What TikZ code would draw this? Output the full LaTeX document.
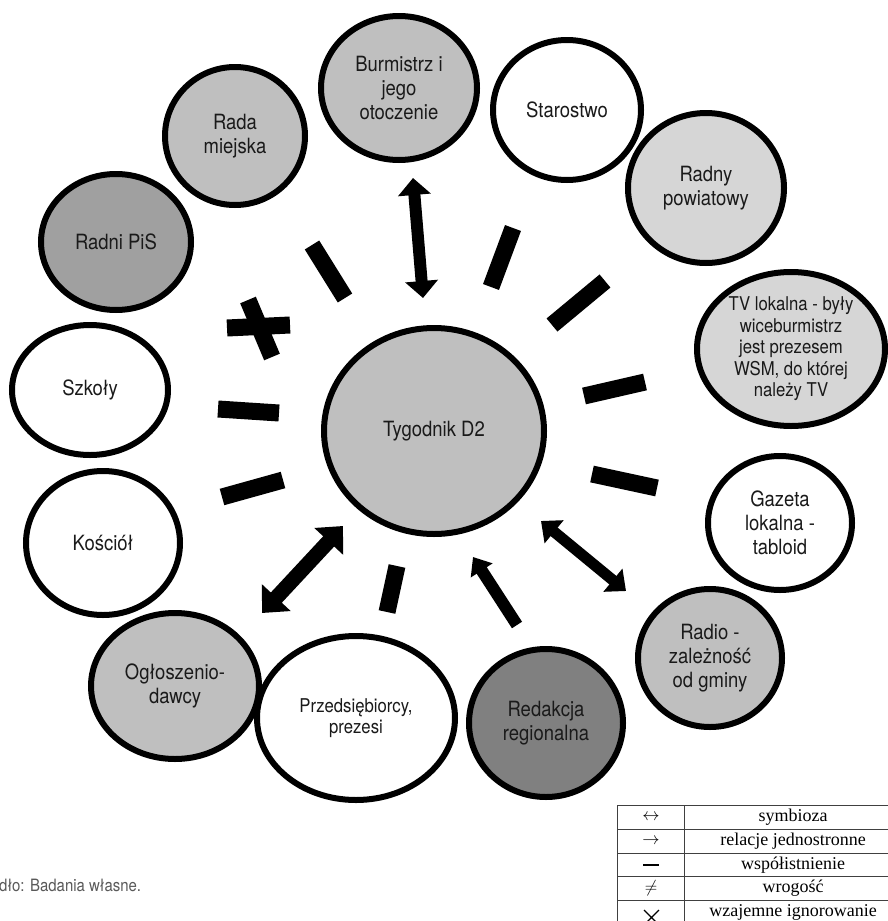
\documentclass[tikz,border=0pt]{standalone}
\usepackage{fontspec}
\setmainfont{TeX Gyre Heros}[FakeStretch=0.88]
\newfontfamily\legendfont{Liberation Serif}
\usetikzlibrary{shapes.geometric,arrows.meta}

\definecolor{midgray}{HTML}{BFBFBF}
\definecolor{lightgray}{HTML}{D6D6D6}
\definecolor{darkgray}{HTML}{A0A0A0}
\definecolor{deepgray}{HTML}{808080}
\definecolor{inkcol}{HTML}{1A1A1A}

\begin{document}
\begin{tikzpicture}[x=1pt,y=-1pt,
  actor/.style={ellipse, draw=black, line width=6pt, inner sep=0pt,
    align=center, text=inkcol, font=\fontsize{21}{24}\selectfont},
  smalltext/.style={font=\fontsize{19}{21.5}\selectfont},
  bar/.style={line width=17pt, line cap=butt, black},
  twoway/.style={line width=#1, black},
  legline/.style={line width=0.8pt, draw=black!75},
  legtext/.style={font=\legendfont\fontsize{18}{20}\selectfont, text=black},
]
\useasboundingbox (0,0) rectangle (888,921);

% ---- actors around the weekly ----
\node[actor, fill=midgray,  minimum width=156pt, minimum height=144pt] (burm)  at (399,88)  {Burmistrz i\\jego\\otoczenie};
\node[actor, fill=white,    minimum width=148pt, minimum height=140pt] (star)  at (567,110) {Starostwo};
\node[actor, fill=midgray,  minimum width=140pt, minimum height=138pt] (rada)  at (235,136) {Rada\\miejska};
\node[actor, fill=darkgray, minimum width=150pt, minimum height=136pt] (pis)   at (116,242) {Radni PiS};
\node[actor, fill=lightgray,minimum width=156pt, minimum height=150pt] (radny) at (706,188) {Radny\\powiatowy};
\node[actor, fill=lightgray,minimum width=188pt, minimum height=154pt, smalltext] (tv) at (791,349)
  {TV lokalna - były\\wiceburmistrz\\jest prezesem\\WSM, do której\\należy TV};
\node[actor, fill=white,    minimum width=156pt, minimum height=130pt] (szk)   at (90,390)  {Szkoły};
\node[actor, fill=midgray,  minimum width=220pt, minimum height=206pt] (tyg)   at (434,431) {Tygodnik D2};
\node[actor, fill=white,    minimum width=144pt, minimum height=134pt] (gaz)   at (780,523) {Gazeta\\lokalna -\\tabloid};
\node[actor, fill=white,    minimum width=154pt, minimum height=144pt] (kos)   at (103,543) {Kościół};
\node[actor, fill=midgray,  minimum width=144pt, minimum height=138pt] (radio) at (710,658) {Radio -\\zależność\\od gminy};
\node[actor, fill=midgray,  minimum width=168pt, minimum height=146pt] (ogl)   at (175,686) {Ogłoszenio-\\dawcy};
\node[actor, fill=white,    minimum width=198pt, minimum height=164pt, smalltext] (prz) at (356,718) {Przedsiębiorcy,\\prezesi};
\node[actor, fill=deepgray, minimum width=154pt, minimum height=148pt] (red)   at (546,723) {Redakcja\\regionalna};

% ---- end points of the relation marks ----
\coordinate (rada-a)  at (312,245); \coordinate (rada-b)  at (345,298);
\coordinate (star-a)  at (513,228); \coordinate (star-b)  at (491,287);
\coordinate (radny-a) at (605,281); \coordinate (radny-b) at (552,325);
\coordinate (tv-a)    at (645,382); \coordinate (tv-b)    at (584,396);
\coordinate (gaz-a)   at (592,474); \coordinate (gaz-b)   at (657,488);
\coordinate (szk-a)   at (218,409); \coordinate (szk-b)   at (279,413);
\coordinate (kos-a)   at (222,497); \coordinate (kos-b)   at (283,480);
\coordinate (prz-a)   at (397,566); \coordinate (prz-b)   at (387,612);
\coordinate (pis-h1)  at (227,328); \coordinate (pis-h2)  at (290,325);
\coordinate (pis-v1)  at (248,300); \coordinate (pis-v2)  at (272,357);
\coordinate (burm-a)  at (413,178); \coordinate (burm-b)  at (423,298);
\coordinate (radio-a) at (541,521); \coordinate (radio-b) at (626,591);
\coordinate (ogl-a)   at (343,526); \coordinate (ogl-b)   at (262,613);
\coordinate (red-a)   at (517,625); \coordinate (red-b)   at (473,557);

% coexistence
\draw[bar] (rada-a) -- (rada-b);
\draw[bar] (star-a) -- (star-b);
\draw[bar] (radny-a) -- (radny-b);
\draw[bar] (tv-a) -- (tv-b);
\draw[bar] (gaz-a) -- (gaz-b);
\draw[bar] (szk-a) -- (szk-b);
\draw[bar] (kos-a) -- (kos-b);
\draw[bar] (prz-a) -- (prz-b);
% hostility
\draw[bar] (pis-h1) -- (pis-h2);
\draw[bar] (pis-v1) -- (pis-v2);
% symbiosis
\draw[twoway=12pt, {Triangle[width=32pt,length=17pt]}-{Triangle[width=32pt,length=17pt]}] (burm-a) -- (burm-b);
\draw[twoway=11pt, {Triangle[width=29pt,length=17pt]}-{Triangle[width=29pt,length=17pt]}] (radio-a) -- (radio-b);
\draw[twoway=15pt, {Triangle[width=38pt,length=21pt]}-{Triangle[width=38pt,length=21pt]}] (ogl-a) -- (ogl-b);
% one-way relation
\draw[twoway=12pt, -{Triangle[width=25pt,length=16pt]}] (red-a) -- (red-b);

% ---- source line ----
\node[anchor=west, inner sep=0pt, text=black!65, font=\fontsize{17}{19}\selectfont] (src) at (-1,885) {dło: Badania własne.};

% ---- legend table ----
\coordinate (lg-nw) at (617,805);
\draw[legline] (617,930) -- (lg-nw) -- (900,805);
\foreach \yy in {829,853,876,900} \draw[legline] (617,\yy) -- (900,\yy);
\draw[legline] (684,805) -- (684,930);
\node[legtext] (lg1) at (651,817) {$\leftrightarrow$};
\node[legtext] (lg2) at (651,841) {$\rightarrow$};
\draw[line width=2pt] (643,865) -- (659,865);
\node[legtext] (lg4) at (651,888) {$\neq$};
\draw[line width=1.2pt] (644,910) -- (659,925) (659,910) -- (644,925);
\node[legtext] (lt1) at (793,817) {symbioza};
\node[legtext] (lt2) at (793,841) {relacje jednostronne};
\node[legtext] (lt3) at (793,865) {współistnienie};
\node[legtext] (lt4) at (793,888) {wrogość};
\node[legtext] (lt5) at (793,912) {wzajemne ignorowanie};
\end{tikzpicture}
\end{document}
